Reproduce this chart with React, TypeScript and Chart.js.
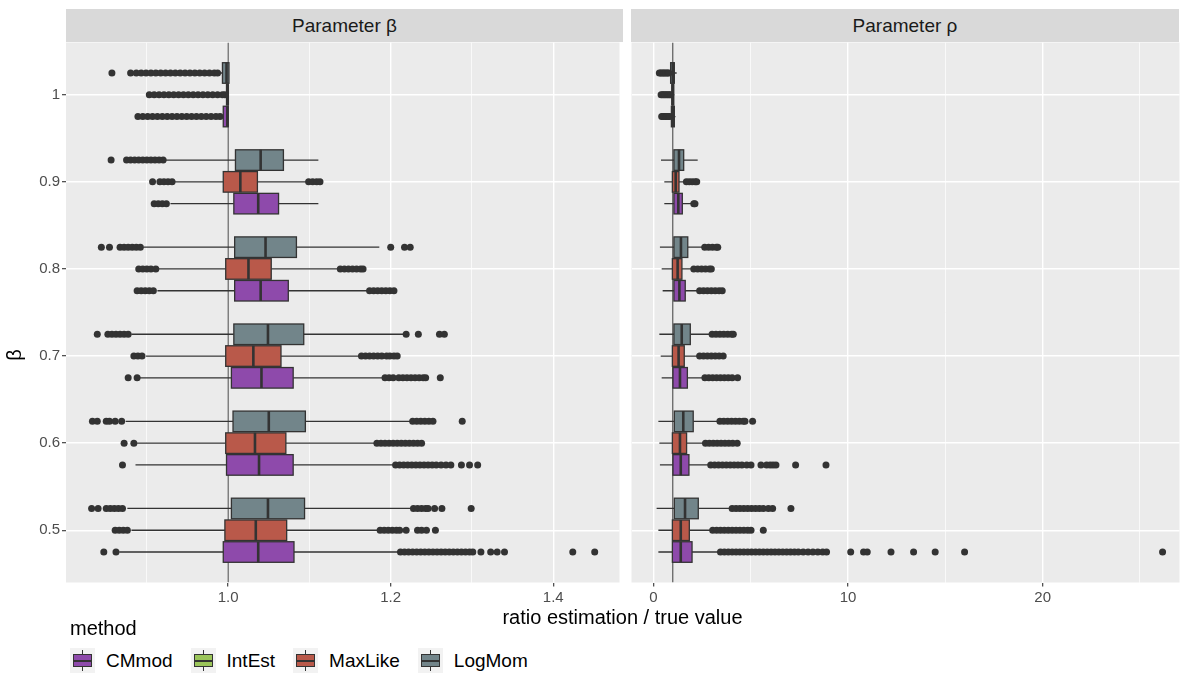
import React, { useEffect, useRef } from 'react';
import { Chart, registerables } from 'chart.js';

Chart.register(...registerables);

// ---------- categories / labels ----------
const LEVELS = ['0.5', '0.6', '0.7', '0.8', '0.9', '1'];
const METHODS = ['CMmod', 'IntEst', 'MaxLike', 'LogMom'];
const METHOD_COLORS = ['#8E4AAB', '#9BC55A', '#B9594A', '#72858A'];
const PANEL_TITLES = ['Parameter β', 'Parameter ρ'];
const X_TITLE = 'ratio estimation / true value';
const Y_TITLE = 'β';
const LEGEND_TITLE = 'method';
const REF_VALUE = 1;

const BETA_TICKS = [0.9, 1.0, 1.1, 1.2, 1.3, 1.4];
const BETA_MAJOR = [1.0, 1.2, 1.4];
const RHO_TICKS = [0, 5, 10, 15, 20, 25];
const RHO_MAJOR = [0, 10, 20];

// ---------- box statistics [lower whisker, q1, median, q3, upper whisker] per level ----------
const BETA_CMMOD_STATS = [
  [0.866, 0.994, 1.037, 1.081, 1.209],
  [0.886, 0.998, 1.038, 1.080, 1.203],
  [0.891, 1.004, 1.041, 1.080, 1.191],
  [0.913, 1.008, 1.040, 1.074, 1.171],
  [0.929, 1.007, 1.037, 1.062, 1.111],
  [0.991, 0.994, 0.999, 1.000, 1.000],
];
const BETA_CMMOD_OUT = [
  [0.847, 0.862, 1.212, 1.217, 1.222, 1.227, 1.232, 1.237, 1.242, 1.247, 1.252, 1.257, 1.262, 1.267, 1.272, 1.277, 1.282, 1.287, 1.292, 1.297, 1.301, 1.311, 1.323, 1.331, 1.340, 1.424, 1.451],
  [0.870, 1.206, 1.211, 1.216, 1.221, 1.226, 1.231, 1.236, 1.241, 1.246, 1.251, 1.256, 1.262, 1.268, 1.274, 1.287, 1.297, 1.307],
  [0.877, 0.888, 1.193, 1.198, 1.203, 1.210, 1.215, 1.220, 1.225, 1.230, 1.235, 1.240, 1.243, 1.261],
  [0.888, 0.893, 0.898, 0.903, 0.908, 1.174, 1.179, 1.184, 1.189, 1.194, 1.199, 1.204],
  [0.909, 0.914, 0.919, 0.924],
  [0.889, 0.895, 0.901, 0.907, 0.913, 0.919, 0.925, 0.931, 0.937, 0.943, 0.949, 0.955, 0.961, 0.967, 0.973, 0.979, 0.985, 0.990],
];

const BETA_MAXLIKE_STATS = [
  [0.881, 0.996, 1.034, 1.072, 1.184],
  [0.888, 0.997, 1.033, 1.071, 1.180],
  [0.899, 0.997, 1.031, 1.065, 1.162],
  [0.914, 0.997, 1.025, 1.053, 1.136],
  [0.934, 0.994, 1.015, 1.036, 1.097],
  [0.997, 0.998, 0.9995, 1.000, 1.000],
];
const BETA_MAXLIKE_OUT = [
  [0.861, 0.866, 0.871, 0.876, 1.187, 1.192, 1.197, 1.202, 1.207, 1.211, 1.219, 1.233, 1.238, 1.244, 1.255],
  [0.872, 0.884, 1.183, 1.188, 1.193, 1.198, 1.203, 1.208, 1.213, 1.218, 1.223, 1.228, 1.233, 1.238],
  [0.884, 0.889, 0.894, 1.164, 1.169, 1.174, 1.179, 1.184, 1.189, 1.195, 1.199, 1.204, 1.208],
  [0.890, 0.895, 0.900, 0.905, 0.911, 1.138, 1.143, 1.148, 1.153, 1.158, 1.163, 1.166],
  [0.907, 0.916, 0.921, 0.926, 0.931, 1.099, 1.104, 1.109, 1.113],
  [0.903, 0.909, 0.915, 0.921, 0.927, 0.933, 0.939, 0.945, 0.951, 0.957, 0.963, 0.969, 0.975, 0.981, 0.987, 0.993, 0.996],
];

const BETA_LOGMOM_STATS = [
  [0.876, 1.004, 1.049, 1.094, 1.226],
  [0.874, 1.006, 1.050, 1.095, 1.225],
  [0.881, 1.007, 1.049, 1.093, 1.217],
  [0.896, 1.008, 1.046, 1.084, 1.186],
  [0.923, 1.009, 1.040, 1.068, 1.111],
  [0.988, 0.993, 0.998, 1.001, 1.001],
];
const BETA_LOGMOM_OUT = [
  [0.832, 0.840, 0.850, 0.855, 0.860, 0.865, 0.870, 1.228, 1.233, 1.238, 1.243, 1.246, 1.254, 1.263, 1.299],
  [0.833, 0.839, 0.850, 0.854, 0.861, 0.869, 1.227, 1.232, 1.237, 1.242, 1.247, 1.252, 1.288],
  [0.839, 0.852, 0.857, 0.862, 0.867, 0.872, 0.877, 1.219, 1.234, 1.260, 1.266],
  [0.844, 0.854, 0.867, 0.872, 0.877, 0.882, 0.887, 0.892, 1.200, 1.217, 1.224],
  [0.856, 0.875, 0.880, 0.885, 0.890, 0.895, 0.900, 0.905, 0.910, 0.915, 0.920],
  [0.857, 0.880, 0.887, 0.893, 0.899, 0.905, 0.911, 0.917, 0.923, 0.929, 0.935, 0.941, 0.947, 0.953, 0.959, 0.965, 0.971, 0.977, 0.983, 0.987],
];

const RHO_CMMOD_STATS = [
  [0.26, 0.98, 1.41, 1.99, 3.34],
  [0.34, 1.01, 1.41, 1.83, 2.88],
  [0.43, 1.01, 1.37, 1.75, 2.57],
  [0.48, 1.06, 1.34, 1.64, 2.31],
  [0.565, 1.06, 1.285, 1.49, 1.94],
  [0.88, 0.93, 1.0, 1.08, 1.14],
];
const RHO_CMMOD_OUT = [
  [3.45, 3.65, 3.85, 4.05, 4.25, 4.45, 4.65, 4.85, 5.05, 5.25, 5.45, 5.65, 5.85, 6.05, 6.25, 6.45, 6.65, 6.85, 7.05, 7.25, 7.45, 7.7, 7.95, 8.2, 8.45, 8.7, 8.9, 10.14, 10.8, 10.99, 12.21, 13.37, 14.48, 15.99, 26.16],
  [2.95, 3.15, 3.35, 3.55, 3.75, 3.95, 4.15, 4.35, 4.55, 4.8, 5.02, 5.53, 5.82, 6.0, 6.15, 6.3, 7.31, 8.87],
  [2.65, 2.85, 3.05, 3.25, 3.45, 3.65, 3.85, 4.05, 4.33],
  [2.38, 2.58, 2.78, 2.98, 3.18, 3.38, 3.54],
  [2.08, 2.14],
  [0.43, 0.5, 0.57, 0.64, 0.71, 0.78, 0.84],
];

const RHO_MAXLIKE_STATS = [
  [0.26, 0.98, 1.41, 1.85, 2.96],
  [0.31, 0.98, 1.37, 1.71, 2.6],
  [0.38, 0.98, 1.3, 1.59, 2.31],
  [0.43, 0.98, 1.25, 1.47, 2.02],
  [0.565, 0.98, 1.15, 1.32, 1.63],
  [0.9, 0.95, 1.0, 1.05, 1.08],
];
const RHO_MAXLIKE_OUT = [
  [3.05, 3.25, 3.45, 3.65, 3.85, 4.05, 4.25, 4.45, 4.65, 4.85, 5.02, 5.65],
  [2.68, 2.88, 3.08, 3.28, 3.48, 3.68, 3.88, 4.08, 4.31],
  [2.38, 2.58, 2.78, 2.98, 3.18, 3.38, 3.59],
  [2.08, 2.28, 2.48, 2.68, 2.88, 2.98],
  [1.7, 1.85, 2.0, 2.15, 2.23],
  [0.4, 0.47, 0.54, 0.61, 0.68, 0.75, 0.82, 0.88],
];

const RHO_LOGMOM_STATS = [
  [0.17, 1.08, 1.63, 2.31, 3.98],
  [0.26, 1.08, 1.54, 2.05, 3.34],
  [0.31, 1.06, 1.46, 1.9, 2.95],
  [0.34, 1.06, 1.42, 1.77, 2.57],
  [0.395, 1.06, 1.32, 1.56, 2.28],
  [0.85, 0.89, 1.0, 1.08, 1.2],
];
const RHO_LOGMOM_OUT = [
  [4.05, 4.25, 4.45, 4.65, 4.85, 5.05, 5.25, 5.45, 5.65, 5.91, 6.13, 7.07],
  [3.42, 3.62, 3.82, 4.02, 4.22, 4.42, 4.62, 4.71, 5.1],
  [3.02, 3.22, 3.42, 3.62, 3.82, 4.02, 4.11],
  [2.64, 2.84, 3.04, 3.24, 3.31],
  [],
  [0.31, 0.38, 0.45, 0.52, 0.59, 0.66, 0.73, 0.8],
];

const BETA_LIMITS = [0.8005, 1.4815];
const RHO_LIMITS = [-1.12, 27.03];

// ---------- layout constants ----------
const FONT = '"Liberation Sans", Arial, Helvetica, sans-serif';
const PANEL_TOP = 42;
const PANEL_BOTTOM = 582;
const LEFT_PANEL = [66, 623];
const RIGHT_PANEL = [631, 1179];
const X_AXIS_H = 30;
const DODGE: Record<string, number> = { CMmod: -0.25, MaxLike: 0, LogMom: 0.25 };
const HALF_BOX = 0.118;

Chart.defaults.font.family = FONT;

type Series = { name: string; color: string; stats: number[][]; out: number[][] };

const BETA_SERIES: Series[] = [
  { name: 'CMmod', color: METHOD_COLORS[0], stats: BETA_CMMOD_STATS, out: BETA_CMMOD_OUT },
  { name: 'MaxLike', color: METHOD_COLORS[2], stats: BETA_MAXLIKE_STATS, out: BETA_MAXLIKE_OUT },
  { name: 'LogMom', color: METHOD_COLORS[3], stats: BETA_LOGMOM_STATS, out: BETA_LOGMOM_OUT },
];
const RHO_SERIES: Series[] = [
  { name: 'CMmod', color: METHOD_COLORS[0], stats: RHO_CMMOD_STATS, out: RHO_CMMOD_OUT },
  { name: 'MaxLike', color: METHOD_COLORS[2], stats: RHO_MAXLIKE_STATS, out: RHO_MAXLIKE_OUT },
  { name: 'LogMom', color: METHOD_COLORS[3], stats: RHO_LOGMOM_STATS, out: RHO_LOGMOM_OUT },
];

const isIn = (v: number, arr: number[]) => arr.some((m) => Math.abs(m - v) < 1e-9);

function makeBoxPlugin(series: Series[]) {
  return {
    id: 'boxes',
    beforeDraw(chart: any) {
      const { ctx, chartArea } = chart;
      ctx.save();
      ctx.fillStyle = '#EBEBEB';
      ctx.fillRect(chartArea.left, chartArea.top, chartArea.right - chartArea.left, chartArea.bottom - chartArea.top);
      ctx.restore();
    },
    beforeDatasetsDraw(chart: any) {
      const { ctx, chartArea } = chart;
      const xs = chart.scales.x;
      const ys = chart.scales.y;
      ctx.save();
      ctx.beginPath();
      ctx.rect(chartArea.left, chartArea.top, chartArea.right - chartArea.left, chartArea.bottom - chartArea.top);
      ctx.clip();
      const xr = xs.getPixelForValue(REF_VALUE);
      ctx.strokeStyle = '#4D4D4D';
      ctx.lineWidth = 1.1;
      ctx.beginPath();
      ctx.moveTo(xr, chartArea.top);
      ctx.lineTo(xr, chartArea.bottom);
      ctx.stroke();
      for (const s of series) {
        s.stats.forEach((st, i) => {
          const pos = i + 1 + DODGE[s.name];
          const yc = ys.getPixelForValue(pos);
          const yt = ys.getPixelForValue(pos + HALF_BOX);
          const yb = ys.getPixelForValue(pos - HALF_BOX);
          const [lo, q1, med, q3, hi] = st.map((v) => xs.getPixelForValue(v));
          ctx.strokeStyle = '#333333';
          ctx.lineWidth = 1.3;
          ctx.beginPath();
          ctx.moveTo(lo, yc);
          ctx.lineTo(q1, yc);
          ctx.moveTo(q3, yc);
          ctx.lineTo(hi, yc);
          ctx.stroke();
          ctx.fillStyle = s.color;
          ctx.fillRect(q1, yt, q3 - q1, yb - yt);
          ctx.strokeRect(q1, yt, q3 - q1, yb - yt);
          ctx.lineWidth = 2.6;
          ctx.beginPath();
          ctx.moveTo(med, yt);
          ctx.lineTo(med, yb);
          ctx.stroke();
        });
      }
      ctx.restore();
    },
  };
}

function PanelChart(props: {
  series: Series[];
  limits: number[];
  ticks: number[];
  major: number[];
  fmt: (v: number) => string;
  panel: number[];
  yAxisWidth: number;
  showY: boolean;
  fixX: boolean;
}) {
  const ref = useRef<HTMLCanvasElement | null>(null);
  const panelW = props.panel[1] - props.panel[0];
  const panelH = PANEL_BOTTOM - PANEL_TOP;
  const initW = panelW + props.yAxisWidth;
  const initH = panelH + X_AXIS_H;
  const initLeft = props.panel[0] - props.yAxisWidth;
  useEffect(() => {
    if (!ref.current) return;
    const canvas = ref.current;
    const { series, limits, ticks, major, fmt, yAxisWidth, showY, panel, fixX } = props;
    const datasets = series.map((s) => ({
      label: s.name,
      data: s.out.flatMap((arr, i) => arr.map((v) => ({ x: v, y: i + 1 + DODGE[s.name] }))),
      pointRadius: 3.5,
      pointHoverRadius: 3.5,
      pointBackgroundColor: '#333333',
      pointBorderWidth: 0,
      showLine: false,
    }));
    const chart = new Chart(canvas, {
      type: 'scatter',
      data: { datasets },
      plugins: [makeBoxPlugin(series)],
      options: {
        animation: false,
        responsive: false,
        maintainAspectRatio: false,
        events: [],
        layout: { padding: 0 },
        plugins: { legend: { display: false }, tooltip: { enabled: false } },
        scales: {
          x: {
            type: 'linear',
            min: limits[0],
            max: limits[1],
            border: { display: false },
            afterBuildTicks: (scale: any) => {
              scale.ticks = ticks.map((v) => ({ value: v }));
            },
            afterFit: (scale: any) => {
              scale.height = X_AXIS_H;
              scale.paddingLeft = 0;
              scale.paddingRight = 0;
            },
            grid: {
              color: '#FFFFFF',
              lineWidth: (c: any) => (c.tick && isIn(c.tick.value, major) ? 1.4 : 0.7),
              tickColor: (c: any) => (c.tick && isIn(c.tick.value, major) ? '#333333' : 'rgba(0,0,0,0)'),
              tickLength: 4,
              tickWidth: 1.1,
            },
            ticks: {
              autoSkip: false,
              maxRotation: 0,
              padding: 2,
              color: '#4D4D4D',
              font: { size: 15, family: FONT },
              callback: (v: any) => (isIn(Number(v), major) ? fmt(Number(v)) : ''),
            },
          },
          y: {
            type: 'linear',
            min: 0.4,
            max: 6.6,
            border: { display: false },
            afterBuildTicks: (scale: any) => {
              scale.ticks = LEVELS.map((_, i) => ({ value: i + 1 }));
            },
            afterFit: (scale: any) => {
              scale.width = yAxisWidth;
              scale.paddingTop = 0;
              scale.paddingBottom = 0;
            },
            grid: {
              color: '#FFFFFF',
              lineWidth: 1.4,
              drawTicks: showY,
              tickColor: '#333333',
              tickLength: 4,
              tickWidth: 1.1,
            },
            ticks: {
              display: showY,
              autoSkip: false,
              padding: 2,
              color: '#4D4D4D',
              font: { size: 15, family: FONT },
              callback: (v: any) => LEVELS[Math.round(Number(v)) - 1] ?? '',
            },
          },
        },
      } as any,
    });
    // align the chart area with the panel box
    const ca = chart.chartArea;
    const cw = chart.width;
    const ch = chart.height;
    const insetT = ca.top;
    const insetB = ch - ca.bottom;
    const insetL = fixX ? ca.left : yAxisWidth;
    const insetR = fixX ? cw - ca.right : 0;
    canvas.style.left = panel[0] - insetL + 'px';
    canvas.style.top = PANEL_TOP - insetT + 'px';
    chart.resize(panelW + insetL + insetR, panelH + insetT + insetB);
    return () => chart.destroy();
  }, []);
  return (
    <canvas
      ref={ref}
      width={initW}
      height={initH}
      style={{ position: 'absolute', left: initLeft, top: PANEL_TOP, width: initW, height: initH }}
    />
  );
}

function LegendKey({ color }: { color: string }) {
  return (
    <div style={{ position: 'relative', width: 25, height: 25, background: '#F2F2F2', flex: 'none' }}>
      <div style={{ position: 'absolute', left: 12, top: 2, width: 1.2, height: 21, background: '#333' }} />
      <div
        style={{
          position: 'absolute',
          left: 3,
          top: 6,
          width: 17,
          height: 11,
          background: color,
          border: '1.3px solid #333',
        }}
      />
      <div style={{ position: 'absolute', left: 3, top: 11.5, width: 19, height: 2.2, background: '#333' }} />
    </div>
  );
}

export default function App() {
  const stripStyle = (left: number, right: number): React.CSSProperties => ({
    position: 'absolute',
    left,
    top: 9,
    width: right - left,
    height: 33,
    background: '#D9D9D9',
    color: '#1A1A1A',
    fontSize: 19,
    fontFamily: FONT,
    display: 'flex',
    alignItems: 'center',
    justifyContent: 'center',
  });
  return (
    <div style={{ position: 'absolute', left: 0, top: 0, width: 1186, height: 673, background: '#FFFFFF', fontFamily: FONT, overflow: 'hidden' }}>
      <div style={stripStyle(LEFT_PANEL[0], LEFT_PANEL[1])}>{PANEL_TITLES[0]}</div>
      <div style={stripStyle(RIGHT_PANEL[0], RIGHT_PANEL[1])}>{PANEL_TITLES[1]}</div>
      <PanelChart
        series={BETA_SERIES}
        limits={BETA_LIMITS}
        ticks={BETA_TICKS}
        major={BETA_MAJOR}
        fmt={(v) => v.toFixed(1)}
        panel={LEFT_PANEL}
        yAxisWidth={LEFT_PANEL[0]}
        showY={true}
        fixX={false}
      />
      <PanelChart
        series={RHO_SERIES}
        limits={RHO_LIMITS}
        ticks={RHO_TICKS}
        major={RHO_MAJOR}
        fmt={(v) => String(Math.round(v))}
        panel={RIGHT_PANEL}
        yAxisWidth={0}
        showY={false}
        fixX={true}
      />
      <div
        style={{
          position: 'absolute',
          left: 2,
          top: 343,
          width: 24,
          height: 24,
          fontSize: 20,
          lineHeight: '24px',
          textAlign: 'center',
          color: '#000',
          transform: 'rotate(-90deg)',
        }}
      >
        {Y_TITLE}
      </div>
      <div
        style={{
          position: 'absolute',
          left: LEFT_PANEL[0],
          width: RIGHT_PANEL[1] - LEFT_PANEL[0],
          top: 604,
          textAlign: 'center',
          fontSize: 20,
          color: '#000',
          lineHeight: '26px',
        }}
      >
        {X_TITLE}
      </div>
      <div style={{ position: 'absolute', left: 70, top: 615, fontSize: 20, color: '#000', lineHeight: '26px' }}>
        {LEGEND_TITLE}
      </div>
      <div style={{ position: 'absolute', left: 70, top: 648, display: 'flex', alignItems: 'center', height: 25 }}>
        {METHODS.map((m, i) => (
          <div key={m} style={{ display: 'flex', alignItems: 'center', marginRight: 18 }}>
            <LegendKey color={METHOD_COLORS[i]} />
            <span style={{ marginLeft: 11, fontSize: 19, color: '#000' }}>{m}</span>
          </div>
        ))}
      </div>
    </div>
  );
}
